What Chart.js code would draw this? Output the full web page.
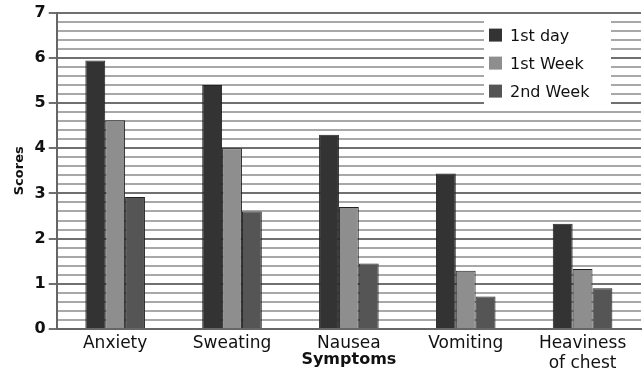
<!DOCTYPE html>
<html>
<head>
<meta charset="utf-8">
<script src="https://cdn.jsdelivr.net/npm/chart.js@4/dist/chart.umd.min.js"></script>
<style>
  html, body { margin: 0; padding: 0; background: #fff; }
  #wrap { width: 644px; height: 377px; }
</style>
</head>
<body>
<div id="wrap"><canvas id="chart" width="644" height="377"></canvas></div>
<script>
// data
const symptoms = ['Anxiety', 'Sweating', 'Nausea', 'Vomiting', ['Heaviness', 'of chest']];
const firstDay = [5.94, 5.4, 4.3, 3.44, 2.33];
const firstWeek = [4.62, 4.0, 2.7, 1.29, 1.33];
const secondWeek = [2.92, 2.6, 1.45, 0.72, 0.9];
const seriesNames = ['1st day', '1st Week', '2nd Week'];
const yTicks = [0, 1, 2, 3, 4, 5, 6, 7];

const FONT = '"DejaVu Sans", sans-serif';
const colors = ['#333333', '#8e8e8e', '#555555'];

const isMajor = v => Math.abs(v - Math.round(v)) < 1e-6;

// vertical legend drawn inside the plot area, top right
const boxLegend = {
    id: 'boxLegend',
    afterDraw(chart) {
        const ctx = chart.ctx;
        const area = chart.chartArea;
        const x = area.right - 157;
        const y = area.top + 6;
        ctx.save();
        ctx.fillStyle = '#fff';
        ctx.fillRect(x, y, 127, 92);
        ctx.font = '16px ' + FONT;
        ctx.textBaseline = 'middle';
        chart.data.datasets.forEach((ds, i) => {
            const ry = y + 17 + i * 28;
            ctx.fillStyle = ds.backgroundColor;
            ctx.fillRect(x + 5, ry - 7, 13, 13);
            ctx.fillStyle = '#111';
            ctx.fillText(ds.label, x + 26, ry + 1);
        });
        ctx.restore();
    }
};

const data = [firstDay, firstWeek, secondWeek];

new Chart(document.getElementById('chart'), {
    type: 'bar',
    data: {
        labels: symptoms,
        datasets: seriesNames.map((name, i) => ({
            label: name,
            data: data[i],
            backgroundColor: colors[i],
            borderColor: '#222',
            borderWidth: 1,
            categoryPercentage: 0.51,
            barPercentage: 1
        }))
    },
    options: {
        responsive: false,
        animation: false,
        layout: { padding: { top: 0, right: 3, left: 12, bottom: 0 } },
        plugins: {
            legend: { display: false },
            tooltip: { enabled: false }
        },
        scales: {
            x: {
                grid: { display: false, drawTicks: false },
                border: { color: '#666', width: 2 },
                ticks: {
                    color: '#111',
                    font: { family: FONT, size: 17, lineHeight: 1.2 },
                    padding: 4,
                    maxRotation: 0,
                    autoSkip: false
                },
                title: {
                    display: true,
                    text: 'Symptoms',
                    color: '#111',
                    font: { family: FONT, size: 16, weight: 'bold', lineHeight: 1.2 },
                    padding: { top: -28, bottom: 8 }
                }
            },
            y: {
                min: yTicks[0],
                max: yTicks[yTicks.length - 1],
                border: { color: '#666', width: 2 },
                grid: {
                    color: c => isMajor(c.tick.value) ? '#707070' : '#a8a8a8',
                    lineWidth: 2,
                    tickColor: c => isMajor(c.tick.value) ? '#707070' : 'rgba(0,0,0,0)',
                    tickLength: 8
                },
                ticks: {
                    stepSize: 0.2,
                    autoSkip: false,
                    color: '#111',
                    font: { family: FONT, size: 16, weight: 'bold' },
                    padding: 3,
                    callback: v => isMajor(v) ? Math.round(v) : ''
                },
                title: {
                    display: true,
                    text: 'Scores',
                    color: '#111',
                    font: { family: FONT, size: 13, weight: 'bold' },
                    padding: { top: 0, bottom: 4 }
                }
            }
        }
    },
    plugins: [boxLegend]
});
</script>
</body>
</html>
